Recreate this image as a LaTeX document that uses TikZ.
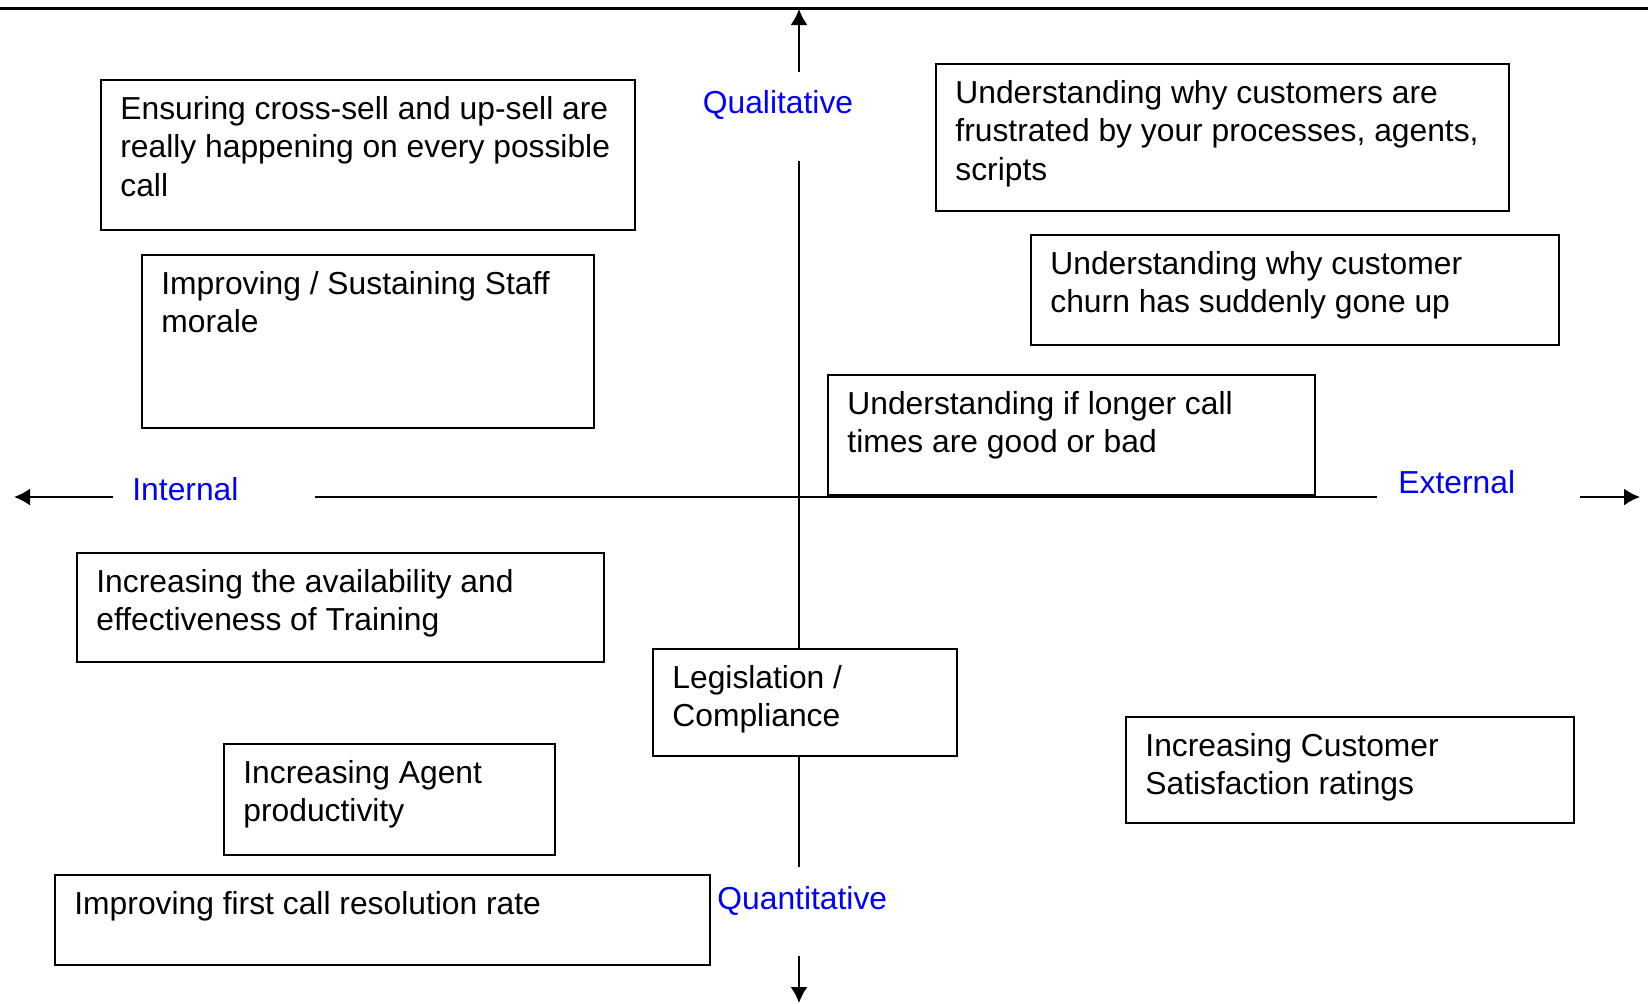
\documentclass[tikz,border=0pt]{standalone}
\usepackage{fontspec}
\setmainfont{Liberation Sans}
\usetikzlibrary{arrows.meta,calc}
\newcommand\quadbox[6]{%
  \node[box,minimum width={(#4-#2)*0.5pt},minimum height={(#5-#3)*0.5pt}] (#1) at (#2,#3) {};
  \node[txt] (#1t) at ($(#1.north west)+(20,13.1)$) {\strut#6};}
\begin{document}
\begin{tikzpicture}[x=0.5pt,y=-0.5pt,
  box/.style={draw=black,line width=1pt,fill=white,anchor=north west,inner sep=0pt},
  txt/.style={anchor=north west,inner sep=0pt,align=left,font=\fontsize{15.9pt}{19.2pt}\selectfont},
  axlab/.style={text=blue,inner sep=0pt,font=\fontsize{15.9pt}{19.2pt}\selectfont},
  axisline/.style={line width=1pt,draw=black},
  arr/.style={axisline,-{Latex[length=8pt,width=8.5pt]}}]
\useasboundingbox (0,0) rectangle (1648,1003);
% top rule
\coordinate (topL) at (0,8.5);
\coordinate (topR) at (1648,8.5);
\draw[line width=1.5pt] (topL) -- (topR);
% axis coordinates
\coordinate (vtop) at (799,9);
\coordinate (vq1) at (799,72);
\coordinate (vq2) at (799,161);
\coordinate (vq3) at (799,867);
\coordinate (vq4) at (799,956);
\coordinate (vbot) at (799,1003);
\coordinate (hleft) at (14,497);
\coordinate (hi1) at (113,497);
\coordinate (hi2) at (315,497);
\coordinate (he1) at (1377,497);
\coordinate (he2) at (1580,497);
\coordinate (hright) at (1640,497);
% axis labels
\node[axlab,anchor=base] (qual) at (778,113) {Qualitative};
\node[axlab,anchor=base west] (int) at (132,500) {Internal};
\node[axlab,anchor=base west] (ext) at (1398,493) {External};
\node[axlab,anchor=base west] (quant) at (717,909) {Quantitative};
% axes
\draw[arr] (vq1) -- (vtop);
\draw[axisline] (vq2) -- (vq3);
\draw[arr] (vq4) -- (vbot);
\draw[arr] (hi1) -- (hleft);
\draw[axisline] (hi2) -- (he1);
\draw[arr] (he2) -- (hright);
% boxes
\quadbox{b1}{100}{79}{634}{229}{Ensuring cross-sell and up-sell are\\really happening on every possible\\call}
\quadbox{b2}{141}{254}{593}{427}{Improving / Sustaining Staff\\morale}
\quadbox{b3}{935}{63}{1508}{210}{Understanding why customers are\\frustrated by your processes, agents,\\scripts}
\quadbox{b4}{1030}{234}{1558}{344}{Understanding why customer\\churn has suddenly gone up}
\quadbox{b5}{827}{374}{1314}{494}{Understanding if longer call\\times are good or bad}
\quadbox{b6}{76}{552}{603}{661}{Increasing the availability and\\effectiveness of Training}
\quadbox{b7}{652}{648}{956}{755}{Legislation /\\Compliance}
\quadbox{b8}{1125}{716}{1573}{822}{Increasing Customer\\Satisfaction ratings}
\quadbox{b9}{223}{743}{554}{854}{Increasing Agent\\productivity}
\quadbox{b10}{54}{874}{709}{964}{Improving first call resolution rate}
\end{tikzpicture}
\end{document}
